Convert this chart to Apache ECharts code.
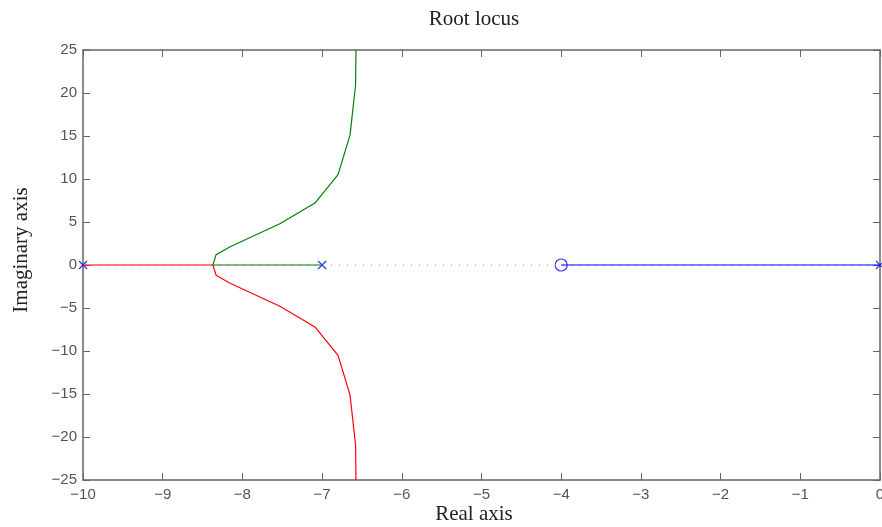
<!DOCTYPE html>
<html>
<head>
<meta charset="utf-8">
<script src="https://cdn.jsdelivr.net/npm/echarts@6/dist/echarts.min.js"></script>
<style>
html,body{margin:0;padding:0;background:#fff;}
#chart{width:882px;height:527px;}
</style>
</head>
<body>
<div id="chart"></div>
<script>
// Root locus branches as [real, imaginary] pairs
const upperBranch = [[-7, 0], [-8.37, 0], [-8.33, 1.2], [-8.16, 2.1], [-7.53, 4.8], [-7.09, 7.2], [-6.80, 10.5], [-6.65, 15.1], [-6.58, 20.9], [-6.575, 25]];
const lowerBranch = [[-10, 0], [-8.37, 0], [-8.33, -1.2], [-8.16, -2.1], [-7.53, -4.8], [-7.09, -7.2], [-6.80, -10.5], [-6.65, -15.1], [-6.58, -20.9], [-6.575, -25]];
const realBranch = [[-4, 0], [0, 0]];
const realAxisLine = [[-10, 0], [0, 0]];
const poles = [[-10, 0], [-7, 0], [0, 0]];
const zeros = [[-4, 0]];
const xTicks = [-10, -9, -8, -7, -6, -5, -4, -3, -2, -1, 0];
const yTicks = [-25, -20, -15, -10, -5, 0, 5, 10, 15, 20, 25];

const chart = echarts.init(document.getElementById('chart'));
const axisGray = '#666';
const labelGray = '#555';
const serif = '"Liberation Serif", "DejaVu Serif", serif';
const minus = v => (v < 0 ? '\u2212' + Math.abs(v) : String(v));

function frameAxis(pos, isX, showLabels) {
  return {
    type: 'value',
    position: pos,
    min: isX ? xTicks[0] : yTicks[0],
    max: isX ? xTicks[xTicks.length - 1] : yTicks[yTicks.length - 1],
    interval: isX ? 1 : 5,
    splitLine: { show: false },
    axisLine: { show: true, onZero: false, lineStyle: { color: axisGray, width: 1.5 } },
    axisTick: { show: true, inside: true, length: 7, lineStyle: { color: axisGray, width: 1 } },
    axisLabel: {
      show: showLabels,
      color: labelGray,
      fontFamily: '"Liberation Sans", Arial, sans-serif',
      fontSize: 15,
      margin: isX ? 7 : 6,
      formatter: minus
    }
  };
}

chart.setOption({
  animation: false,
  grid: { left: 83, right: 2, top: 50, bottom: 47, containLabel: false, outerBoundsMode: 'none' },
  xAxis: [frameAxis('bottom', true, true), frameAxis('top', true, false)],
  yAxis: [frameAxis('left', false, true), frameAxis('right', false, false)],
  graphic: [
    { type: 'text', x: 474, y: 19, style: { text: 'Root locus', font: '21px ' + serif, fill: '#222', align: 'center', verticalAlign: 'middle' } },
    { type: 'text', x: 474, y: 514, style: { text: 'Real axis', font: '21px ' + serif, fill: '#222', align: 'center', verticalAlign: 'middle' } },
    { type: 'text', x: 21, y: 250, rotation: Math.PI / 2, style: { text: 'Imaginary axis', font: '21px ' + serif, fill: '#222', align: 'center', verticalAlign: 'middle' } }
  ],
  series: [
    {
      type: 'line', data: realAxisLine, symbol: 'none', silent: true,
      lineStyle: { color: '#999', width: 1, type: [1, 7] }
    },
    {
      type: 'line', data: upperBranch, symbol: 'none',
      lineStyle: { color: '#008000', width: 1.2 }
    },
    {
      type: 'line', data: lowerBranch, symbol: 'none',
      lineStyle: { color: '#ff0000', width: 1.2 }
    },
    {
      type: 'line', data: realBranch, symbol: 'none',
      lineStyle: { color: '#0000ff', width: 1.2 }
    },
    {
      type: 'scatter', data: poles, clip: false,
      symbol: 'path://M0,0L10,10M10,0L0,10', symbolSize: 8,
      itemStyle: { color: 'none', borderColor: '#0000ff', borderWidth: 1.2 }
    },
    {
      type: 'scatter', data: zeros, clip: false,
      symbol: 'circle', symbolSize: 12,
      itemStyle: { color: 'rgba(0,0,0,0)', borderColor: '#0000ff', borderWidth: 1.2 }
    }
  ]
});
</script>
</body>
</html>
